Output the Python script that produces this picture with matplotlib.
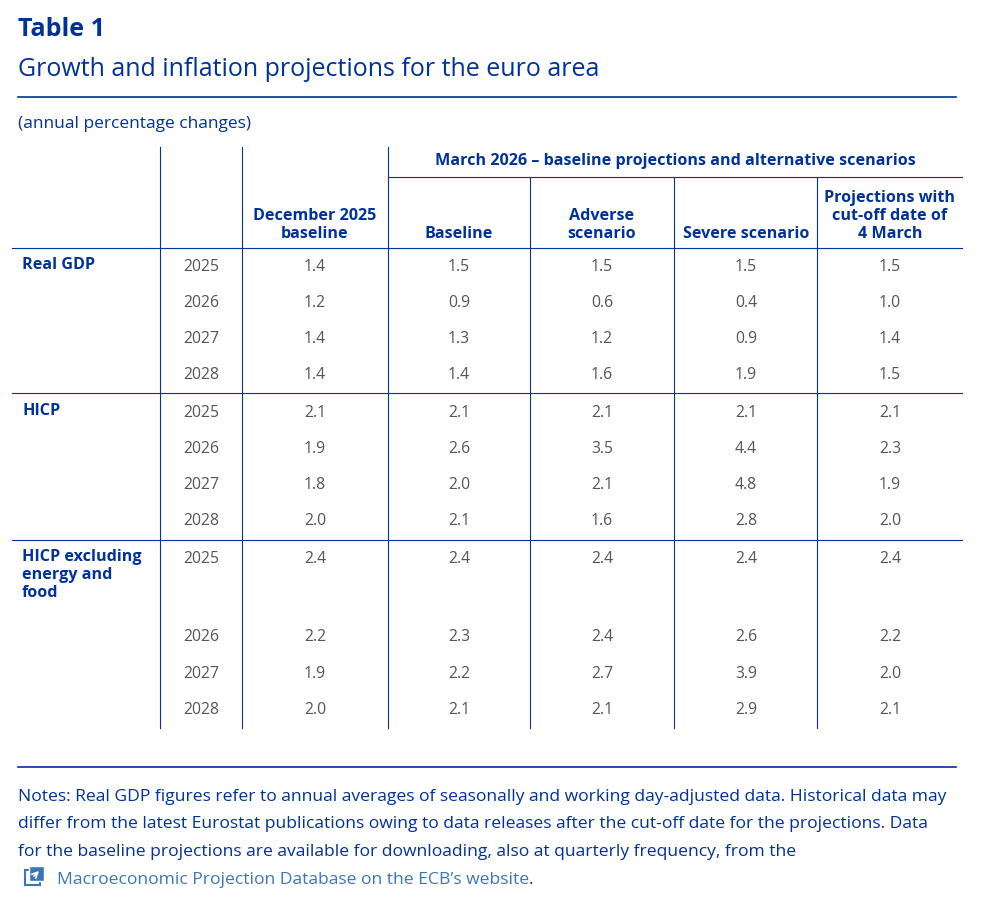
import matplotlib.pyplot as plt
from matplotlib.patches import Rectangle

plt.rcParams['font.family'] = ['Open Sans', 'DejaVu Sans']

BLUE = '#003299'
GREY = '#555555'
LINK = '#3a78b5'

title = "Table 1"
subtitle = "Growth and inflation projections for the euro area"
unit = "(annual percentage changes)"
group_header = "March 2026 – baseline projections and alternative scenarios"
col_headers = ["December 2025\nbaseline", "Baseline", "Adverse\nscenario",
               "Severe scenario", "Projections with\ncut-off date of\n4 March"]
row_groups = ["Real GDP", "HICP", "HICP excluding\nenergy and\nfood"]
years = ["2025", "2026", "2027", "2028"]

dec_2025 = [1.4, 1.2, 1.4, 1.4, 2.1, 1.9, 1.8, 2.0, 2.4, 2.2, 1.9, 2.0]
baseline = [1.5, 0.9, 1.3, 1.4, 2.1, 2.6, 2.0, 2.1, 2.4, 2.3, 2.2, 2.1]
adverse = [1.5, 0.6, 1.2, 1.6, 2.1, 3.5, 2.1, 1.6, 2.4, 2.4, 2.7, 2.1]
severe = [1.5, 0.4, 0.9, 1.9, 2.1, 4.4, 4.8, 2.8, 2.4, 2.6, 3.9, 2.9]
cutoff = [1.5, 1.0, 1.4, 1.5, 2.1, 2.3, 1.9, 2.0, 2.4, 2.2, 2.0, 2.1]

notes = [
    "Notes: Real GDP figures refer to annual averages of seasonally and working day-adjusted data. Historical data may",
    "differ from the latest Eurostat publications owing to data releases after the cut-off date for the projections. Data",
    "for the baseline projections are available for downloading, also at quarterly frequency, from the",
]
link = "Macroeconomic Projection Database on the ECB’s website"

fig = plt.figure(figsize=(9.86, 9.11), dpi=100)
ax = fig.add_axes([0, 0, 1, 1])
ax.set_xlim(0, 986)
ax.set_ylim(911, 0)
ax.axis('off')

ax.text(18, 30, title, fontsize=18, fontweight='bold', color=BLUE, va='center')
ax.text(18, 69, subtitle, fontsize=18, color=BLUE, va='center')
ax.plot([18, 956], [97, 97], color=BLUE, lw=1.2)
ax.text(18, 124, unit, fontsize=12.5, color=BLUE, va='center')

# grid lines
for x in [160, 242, 388]:
    ax.plot([x, x], [147, 728], color=BLUE, lw=0.8)
for x in [530, 674, 817]:
    ax.plot([x, x], [177, 728], color=BLUE, lw=0.8)
ax.plot([388, 962], [177, 177], color=BLUE, lw=0.8)
for y in [248, 393, 540]:
    ax.plot([12, 962], [y, y], color=BLUE, lw=0.8)

FS = 11.6
ax.text(675, 161, group_header, fontsize=FS, fontweight='bold', color=BLUE,
        ha='center', va='center')
col_x = [315, 459, 602, 746, 890]
for x, h in zip(col_x, col_headers):
    ax.text(x, 242, h, fontsize=FS, fontweight='bold', color=BLUE,
            ha='center', va='bottom', linespacing=1.15)

row_y = [267, 303, 339, 375, 413, 449, 485, 521, 559, 637, 674, 710]
for g, lab in enumerate(row_groups):
    ax.text(22, row_y[4 * g] - 10, lab, fontsize=FS, fontweight='bold',
            color=BLUE, va='top', linespacing=1.15)
for i, y in enumerate(row_y):
    ax.text(201, y, years[i % 4], fontsize=11.3, color=GREY, ha='center', va='center')
    for x, series in zip(col_x, [dec_2025, baseline, adverse, severe, cutoff]):
        ax.text(x, y, f"{series[i]:.1f}", fontsize=11.3, color=GREY,
                ha='center', va='center')

ax.plot([18, 956], [767, 767], color=BLUE, lw=1.2)
NF = 12.6
for i, line in enumerate(notes):
    ax.text(18, 797 + i * 27.5, line, fontsize=NF, color=BLUE, va='center')

# link icon
ax.add_patch(Rectangle((25, 870), 15, 15, fill=False, edgecolor=LINK, lw=1.5))
ax.add_patch(Rectangle((29, 866), 15, 15, facecolor=LINK, edgecolor='white', lw=1))
ax.annotate('', xy=(41, 869), xytext=(32, 878),
            arrowprops=dict(arrowstyle='->', color='white', lw=1.2))
t = ax.text(57, 880, link, fontsize=NF, color=LINK, va='center')
fig.canvas.draw()
bb = t.get_window_extent()
ax.annotate(".", xy=(1, 0.5), xycoords=t, fontsize=NF, color=BLUE, va='center')

fig.savefig('out.png', dpi=100)
